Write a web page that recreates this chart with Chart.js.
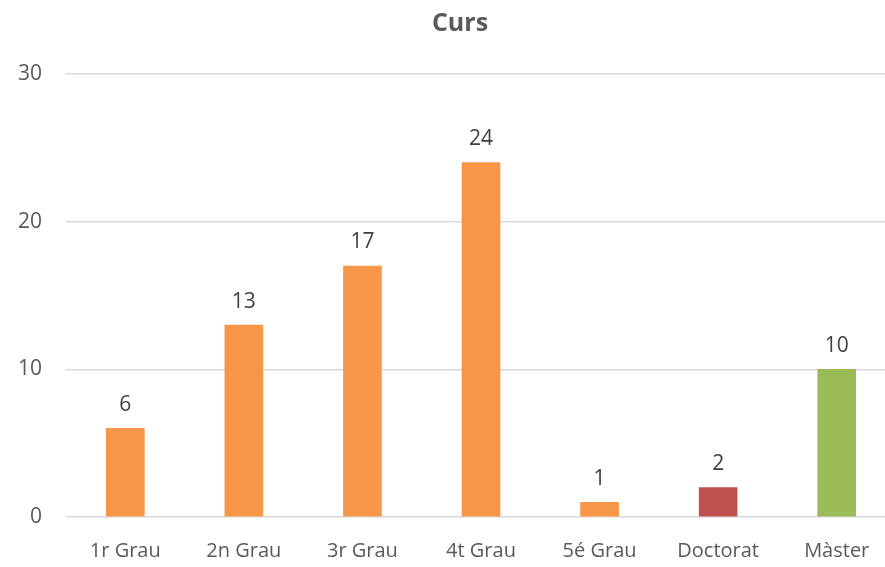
<!DOCTYPE html>
<html>
<head>
<meta charset="utf-8">
<script src="https://cdn.jsdelivr.net/npm/chart.js@4"></script>
<style>
  html, body { margin: 0; padding: 0; background: #fff; overflow: hidden; }
</style>
</head>
<body>
<canvas id="cursChart" width="920" height="567"></canvas>
<script>
const categories = ['1r Grau', '2n Grau', '3r Grau', '4t Grau', '5é Grau', 'Doctorat', 'Màster'];
const counts = [6, 13, 17, 24, 1, 2, 10];
const barColors = ['#F79646', '#F79646', '#F79646', '#F79646', '#F79646', '#C0504D', '#9BBB59'];
const yTicks = [0, 10, 20, 30];

const fontFamily = '"Open Sans", "Liberation Sans", sans-serif';

// draw the value above each bar
const valueLabels = {
    id: 'valueLabels',
    afterDatasetsDraw(chart) {
        const ctx = chart.ctx;
        const meta = chart.getDatasetMeta(0);
        ctx.save();
        ctx.font = '21px ' + fontFamily;
        ctx.fillStyle = '#404040';
        ctx.textAlign = 'center';
        ctx.textBaseline = 'bottom';
        meta.data.forEach((bar, i) => {
            ctx.fillText(counts[i], bar.x, bar.y - 13);
        });
        ctx.restore();
    }
};

const ctx = document.getElementById('cursChart').getContext('2d');
new Chart(ctx, {
    type: 'bar',
    data: {
        labels: categories,
        datasets: [{
            data: counts,
            backgroundColor: barColors,
            barThickness: 38
        }]
    },
    options: {
        responsive: false,
        animation: false,
        layout: { padding: { left: 0, right: 0, top: 0, bottom: 4 } },
        plugins: {
            legend: { display: false },
            tooltip: { enabled: false },
            title: {
                display: true,
                text: 'Curs',
                color: '#595959',
                font: { family: fontFamily, size: 25, weight: 'bold' },
                padding: { top: 9, bottom: 35 }
            }
        },
        scales: {
            x: {
                grid: { display: false, drawTicks: false },
                border: { display: false },
                afterFit(scale) {
                    scale.height = 46;
                },
                ticks: {
                    color: '#595959',
                    font: { family: fontFamily, size: 20 },
                    padding: 22,
                    maxRotation: 0
                }
            },
            y: {
                min: 0,
                max: 30,
                afterBuildTicks(scale) {
                    scale.ticks = yTicks.map(v => ({ value: v }));
                },
                afterFit(scale) {
                    scale.width = 66;
                },
                grid: { color: '#D9D9D9', lineWidth: 1.5, drawTicks: false },
                border: { display: false },
                ticks: {
                    color: '#595959',
                    font: { family: fontFamily, size: 21 },
                    padding: 24
                }
            },
            // empty right-hand axis, only keeps room on the right so the title stays centred
            yRight: {
                position: 'right',
                grid: { display: false, drawTicks: false },
                border: { display: false },
                ticks: { display: false },
                afterFit(scale) {
                    scale.width = 24;
                }
            }
        }
    },
    plugins: [valueLabels]
});
</script>
</body>
</html>
